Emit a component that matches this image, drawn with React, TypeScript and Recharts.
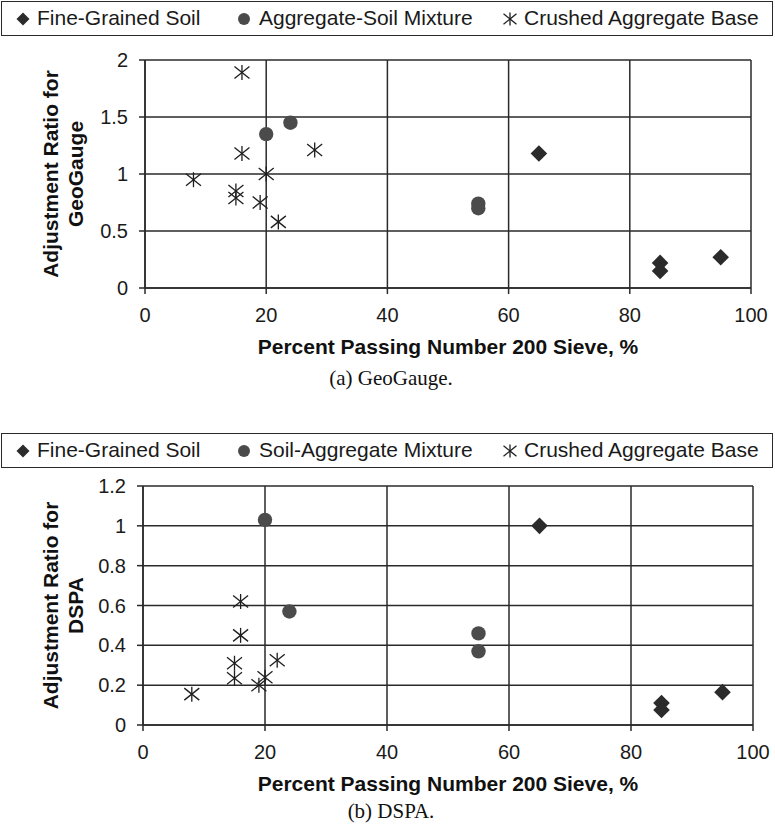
import React from 'react';
import { ScatterChart, Scatter, XAxis, YAxis, CartesianGrid, Label } from 'recharts';

// x: percent passing No. 200 sieve, y: adjustment ratio
const geoFineX = [65, 85, 85, 95];
const geoFineY = [1.18, 0.22, 0.15, 0.27];
const geoMixX = [20, 24, 55, 55];
const geoMixY = [1.35, 1.45, 0.74, 0.7];
const geoBaseX = [16, 16, 8, 15, 15, 19, 20, 22, 28];
const geoBaseY = [1.89, 1.18, 0.95, 0.85, 0.79, 0.75, 1.0, 0.58, 1.21];

const dspaFineX = [65, 85, 85, 95];
const dspaFineY = [1.0, 0.11, 0.075, 0.165];
const dspaMixX = [20, 24, 55, 55];
const dspaMixY = [1.03, 0.57, 0.46, 0.37];
const dspaBaseX = [16, 16, 15, 15, 8, 19, 20, 22];
const dspaBaseY = [0.62, 0.45, 0.31, 0.235, 0.155, 0.2, 0.24, 0.325];

const xTicks = [0, 20, 40, 60, 80, 100];
const geoYTicks = [0, 0.5, 1, 1.5, 2];
const dspaYTicks = [0, 0.2, 0.4, 0.6, 0.8, 1, 1.2];

const toPoints = (xs: number[], ys: number[]) => xs.map((x, i) => ({ x, y: ys[i] }));

const SANS = 'Liberation Sans, Arial, sans-serif';
const SERIF = 'Liberation Serif, Times New Roman, serif';
const INK = '#2a2a2a';

const Diamond = ({ cx, cy, r = 8.3 }: any) => (
  <polygon points={`${cx},${cy - r} ${cx + r},${cy} ${cx},${cy + r} ${cx - r},${cy}`} fill="#2b2b2b" />
);

const Dot = ({ cx, cy, r = 7.2 }: any) => <circle cx={cx} cy={cy} r={r} fill="#4b4b4b" />;

const Star = ({ cx, cy, s = 7.5 }: any) => (
  <g stroke="#1e1e1e" strokeWidth={1.3} fill="none">
    <line x1={cx - s} y1={cy - s * 0.8} x2={cx + s} y2={cy + s * 0.8} />
    <line x1={cx - s} y1={cy + s * 0.8} x2={cx + s} y2={cy - s * 0.8} />
    <line x1={cx} y1={cy - s} x2={cx} y2={cy + s} />
  </g>
);

const LegendBox = ({ top, mixName }: { top: number; mixName: string }) => {
  const items = [
    { sym: <Diamond cx={8} cy={9} r={6.5} />, name: 'Fine-Grained Soil', symX: 14, textX: 36 },
    { sym: <Dot cx={8} cy={9} r={6} />, name: mixName, symX: 235, textX: 258 },
    { sym: <Star cx={8} cy={9} s={6.5} />, name: 'Crushed Aggregate Base', symX: 501, textX: 523 },
  ];
  return (
    <div
      style={{
        position: 'absolute',
        left: 1,
        top,
        width: 770,
        height: 33,
        border: `1.5px solid ${INK}`,
        fontFamily: SANS,
        fontSize: 21,
        color: '#1a1a1a',
      }}
    >
      {items.map((it) => (
        <React.Fragment key={it.name}>
          <svg width={16} height={18} style={{ position: 'absolute', left: it.symX - 1, top: 8 }}>
            {it.sym}
          </svg>
          <span style={{ position: 'absolute', left: it.textX - 1, top: 4, lineHeight: '24px', whiteSpace: 'nowrap' }}>
            {it.name}
          </span>
        </React.Fragment>
      ))}
    </div>
  );
};

interface PanelProps {
  top: number;
  height: number;
  plotLeft: number;
  plotRight: number;
  plotTop: number;
  plotBottom: number;
  yTicks: number[];
  yMax: number;
  yLabel2: string;
  caption: string;
  captionGap: number;
  fine: { x: number; y: number }[];
  mix: { x: number; y: number }[];
  base: { x: number; y: number }[];
}

const Panel = (p: PanelProps) => {
  const yAxisWidth = 120;
  const xAxisHeight = 40;
  return (
    <div style={{ position: 'absolute', left: 0, top: p.top }}>
      <ScatterChart
        width={775}
        height={p.height}
        margin={{
          top: p.plotTop,
          right: 775 - p.plotRight,
          bottom: p.height - p.plotBottom - xAxisHeight,
          left: p.plotLeft - yAxisWidth,
        }}
      >
        <CartesianGrid stroke={INK} strokeWidth={1.5} />
        <XAxis
          type="number"
          dataKey="x"
          domain={[0, 100]}
          ticks={xTicks}
          height={xAxisHeight}
          tickSize={6}
          tickMargin={14}
          axisLine={{ stroke: INK, strokeWidth: 1.5 }}
          tickLine={{ stroke: INK, strokeWidth: 1.5 }}
          tick={{ fill: '#1a1a1a', fontSize: 20, fontFamily: SANS }}
        >
          <Label
            content={({ viewBox }: any) => (
              <g>
                <text
                  x={viewBox.x + viewBox.width / 2}
                  y={viewBox.y + 58}
                  textAnchor="middle"
                  dominantBaseline="central"
                  fontFamily={SANS}
                  fontWeight="bold"
                  fontSize={21}
                  fill="#111"
                >
                  Percent Passing Number 200 Sieve, %
                </text>
                <text
                  x={391}
                  y={viewBox.y + p.captionGap}
                  textAnchor="middle"
                  dominantBaseline="central"
                  fontFamily={SERIF}
                  fontSize={21}
                  fill="#111"
                >
                  {p.caption}
                </text>
              </g>
            )}
          />
        </XAxis>
        <YAxis
          type="number"
          dataKey="y"
          domain={[0, p.yMax]}
          ticks={p.yTicks}
          width={yAxisWidth}
          tickSize={6}
          tickMargin={11}
          axisLine={{ stroke: INK, strokeWidth: 1.5 }}
          tickLine={{ stroke: INK, strokeWidth: 1.5 }}
          tick={{ fill: '#1a1a1a', fontSize: 20, fontFamily: SANS }}
        >
          <Label
            content={({ viewBox }: any) => {
              const cy = viewBox.y + viewBox.height / 2;
              return (
                <g fontFamily={SANS} fontWeight="bold" fontSize={21} fill="#111">
                  <text x={50} y={cy} transform={`rotate(-90, 50, ${cy})`} textAnchor="middle" dominantBaseline="central">
                    Adjustment Ratio for
                  </text>
                  <text x={75} y={cy} transform={`rotate(-90, 75, ${cy})`} textAnchor="middle" dominantBaseline="central">
                    {p.yLabel2}
                  </text>
                </g>
              );
            }}
          />
        </YAxis>
        <Scatter name="Fine-Grained Soil" data={p.fine} isAnimationActive={false} shape={(s: any) => <Diamond cx={s.cx} cy={s.cy} />} />
        <Scatter name="Mixture" data={p.mix} isAnimationActive={false} shape={(s: any) => <Dot cx={s.cx} cy={s.cy} />} />
        <Scatter name="Crushed Aggregate Base" data={p.base} isAnimationActive={false} shape={(s: any) => <Star cx={s.cx} cy={s.cy} />} />
      </ScatterChart>
    </div>
  );
};

export default function App() {
  return (
    <div style={{ position: 'absolute', left: 0, top: 0, width: 775, height: 828, background: '#fff', overflow: 'hidden' }}>
      <Panel
        top={0}
        height={400}
        plotLeft={145}
        plotRight={751}
        plotTop={60}
        plotBottom={288}
        yTicks={geoYTicks}
        yMax={2}
        yLabel2="GeoGauge"
        caption="(a) GeoGauge."
        captionGap={90}
        fine={toPoints(geoFineX, geoFineY)}
        mix={toPoints(geoMixX, geoMixY)}
        base={toPoints(geoBaseX, geoBaseY)}
      />
      <LegendBox top={1} mixName="Aggregate-Soil Mixture" />
      <Panel
        top={400}
        height={428}
        plotLeft={143}
        plotRight={753}
        plotTop={86}
        plotBottom={325}
        yTicks={dspaYTicks}
        yMax={1.2}
        yLabel2="DSPA"
        caption="(b) DSPA."
        captionGap={86}
        fine={toPoints(dspaFineX, dspaFineY)}
        mix={toPoints(dspaMixX, dspaMixY)}
        base={toPoints(dspaBaseX, dspaBaseY)}
      />
      <LegendBox top={433} mixName="Soil-Aggregate Mixture" />
    </div>
  );
}
